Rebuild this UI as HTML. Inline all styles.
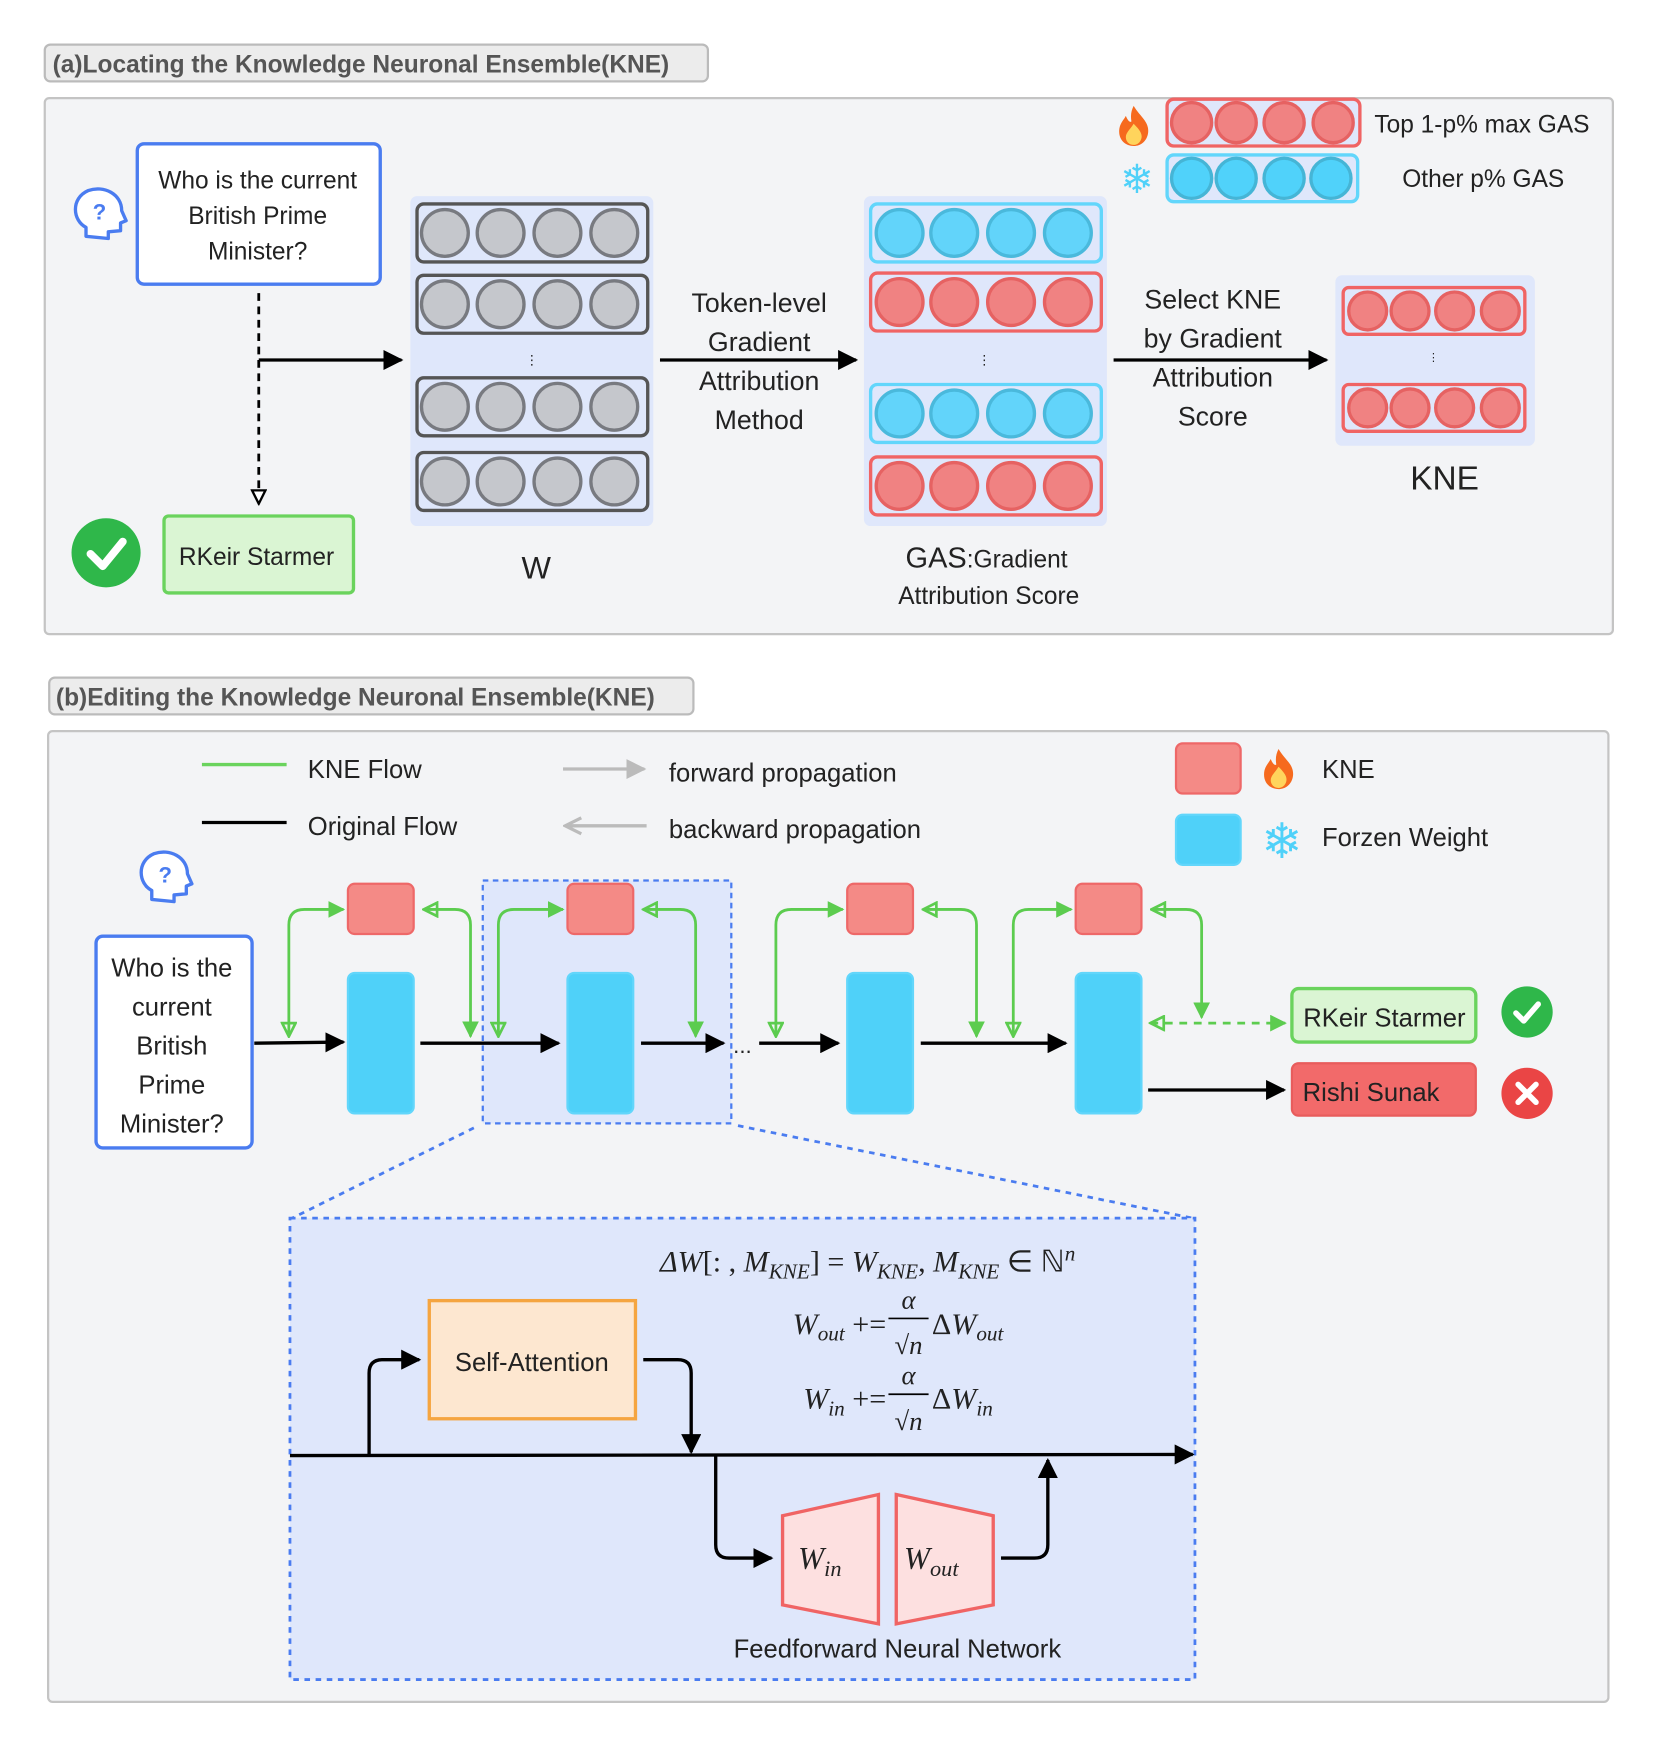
<!DOCTYPE html>
<html><head><meta charset="utf-8"><style>
html,body{margin:0;padding:0;background:#fff;}
svg{display:block;}
text{font-family:"Liberation Sans","DejaVu Sans",sans-serif;fill:#222;}
.m{font-family:"Liberation Serif",serif;font-style:italic;}
</style></head><body>
<svg width="1661" height="1752" viewBox="0 0 1490 1572" xmlns="http://www.w3.org/2000/svg">
<defs>
<marker id="ab" viewBox="0 0 10 10" refX="9" refY="5" markerWidth="6" markerHeight="6" orient="auto-start-reverse"><path d="M0,0 L10,5 L0,10 z" fill="#000"/></marker>
<marker id="gf" viewBox="0 0 10 10" refX="9" refY="5" markerWidth="6" markerHeight="6" orient="auto-start-reverse"><path d="M0,0 L10,5 L0,10 z" fill="#5ccc4f"/></marker>
<marker id="go" viewBox="0 0 10 10" refX="9" refY="5" markerWidth="6" markerHeight="6" orient="auto-start-reverse"><path d="M1,1 L9,5 L1,9 z" fill="none" stroke="#5ccc4f" stroke-width="1.6"/></marker>
<marker id="ko" viewBox="0 0 10 10" refX="9" refY="5" markerWidth="6" markerHeight="6" orient="auto-start-reverse"><path d="M1,1 L9,5 L1,9 z" fill="#fff" stroke="#000" stroke-width="1.4"/></marker>
<marker id="gr" viewBox="0 0 10 10" refX="9" refY="5" markerWidth="6" markerHeight="6" orient="auto-start-reverse"><path d="M0,0 L10,5 L0,10 z" fill="#bbb"/></marker>
<marker id="gro" viewBox="0 0 10 10" refX="9" refY="5" markerWidth="6" markerHeight="6" orient="auto-start-reverse"><path d="M1,1 L9,5 L1,9" fill="none" stroke="#bbb" stroke-width="1.6"/></marker>
<g id="qh"><path d="M-10,20 L-10,12 C-22,6 -24,-14 -8,-21 C6,-26 22,-18 22,-3 L26,6 L21,8 L21,15 L10,16 L10,22 Z" fill="#fff" stroke="#4a7cf0" stroke-width="3" stroke-linejoin="round"/><text x="2" y="5" font-size="20" text-anchor="middle" style="fill:#4a7cf0;font-weight:bold">?</text></g>
<g id="fl"><path d="M0,-18 C6,-8 14,-4 13,6 C12,14 6,18 0,18 C-7,18 -13,13 -13,5 C-13,-2 -9,-5 -7,-9 C-5,-4 -3,-3 -2,-4 C-3,-10 -2,-14 0,-18Z" fill="#f66a1e"/><path d="M0,-2 C5,3 8,7 7,11 C6,15 3,17 0,17 C-4,17 -7,14 -7,10 C-7,6 -3,3 0,-2Z" fill="#ffd45c"/></g>
</defs>

<!-- (a) -->
<rect x="40" y="40" width="595" height="33" rx="5" fill="#ececec" stroke="#bbb" stroke-width="2"/>
<text x="47" y="65" font-size="22" font-weight="bold" style="fill:#555">(a)Locating the Knowledge Neuronal Ensemble(KNE)</text>
<rect x="40" y="88" width="1407" height="481" rx="4" fill="#f3f4f6" stroke="#c4c4c4" stroke-width="2"/>
<use href="#qh" x="87" y="192"/>
<rect x="123" y="129" width="218" height="126" rx="6" fill="#fff" stroke="#4a7cf0" stroke-width="3"/>
<text font-size="22" text-anchor="middle"><tspan x="231" y="169">Who is the current</tspan><tspan x="231" y="201">British Prime</tspan><tspan x="231" y="233">Minister?</tspan></text>
<line x1="232" y1="263" x2="232" y2="452" stroke="#000" stroke-width="2.5" stroke-dasharray="7,5" marker-end="url(#ko)"/>
<line x1="232" y1="323" x2="360" y2="323" stroke="#000" stroke-width="3" marker-end="url(#ab)"/>
<circle cx="95" cy="496" r="31" fill="#2fb74a"/><path d="M81,497 L92,508 L110,486" fill="none" stroke="#fff" stroke-width="7" stroke-linecap="round" stroke-linejoin="round"/>
<rect x="147" y="463" width="170" height="69" rx="4" fill="#daf5d3" stroke="#6ad35d" stroke-width="3"/>
<text x="230" y="507" font-size="22" text-anchor="middle">RKeir Starmer</text>

<rect x="368" y="176" width="218" height="296" rx="6" fill="#dfe7fb"/>
<g stroke="#555" stroke-width="3" fill="#dfe7fb">
<rect x="374" y="183" width="207" height="52" rx="6"/><rect x="374" y="247" width="207" height="52" rx="6"/>
<rect x="374" y="339" width="207" height="52" rx="6"/><rect x="374" y="406" width="207" height="52" rx="6"/>
</g>
<g fill="#c5c7cc" stroke="#787a80" stroke-width="3">
<circle cx="399" cy="209" r="21"/><circle cx="449" cy="209" r="21"/><circle cx="500" cy="209" r="21"/><circle cx="551" cy="209" r="21"/>
<circle cx="399" cy="273" r="21"/><circle cx="449" cy="273" r="21"/><circle cx="500" cy="273" r="21"/><circle cx="551" cy="273" r="21"/>
<circle cx="399" cy="365" r="21"/><circle cx="449" cy="365" r="21"/><circle cx="500" cy="365" r="21"/><circle cx="551" cy="365" r="21"/>
<circle cx="399" cy="432" r="21"/><circle cx="449" cy="432" r="21"/><circle cx="500" cy="432" r="21"/><circle cx="551" cy="432" r="21"/>
</g>
<text x="477" y="327" font-size="12" text-anchor="middle">⋮</text>
<text x="481" y="519" font-size="28" text-anchor="middle">W</text>

<text font-size="24" text-anchor="middle"><tspan x="681" y="280">Token-level</tspan><tspan x="681" y="315">Gradient</tspan><tspan x="681" y="350">Attribution</tspan><tspan x="681" y="385">Method</tspan></text>
<line x1="592" y1="323" x2="768" y2="323" stroke="#000" stroke-width="3" marker-end="url(#ab)"/>

<rect x="775" y="176" width="218" height="296" rx="6" fill="#dfe7fb"/>
<g stroke-width="3" fill="#dfe7fb">
<rect x="781" y="183" width="207" height="52" rx="6" stroke="#62d6fb"/><rect x="781" y="245" width="207" height="52" rx="6" stroke="#f06464"/>
<rect x="781" y="345" width="207" height="52" rx="6" stroke="#62d6fb"/><rect x="781" y="410" width="207" height="52" rx="6" stroke="#f06464"/>
</g>
<g fill="#62d4fa" stroke="#4ab9dc" stroke-width="3">
<circle cx="807" cy="209" r="21"/><circle cx="856" cy="209" r="21"/><circle cx="907" cy="209" r="21"/><circle cx="958" cy="209" r="21"/>
<circle cx="807" cy="371" r="21"/><circle cx="856" cy="371" r="21"/><circle cx="907" cy="371" r="21"/><circle cx="958" cy="371" r="21"/>
</g>
<g fill="#f08282" stroke="#e66262" stroke-width="3">
<circle cx="807" cy="271" r="21"/><circle cx="856" cy="271" r="21"/><circle cx="907" cy="271" r="21"/><circle cx="958" cy="271" r="21"/>
<circle cx="807" cy="436" r="21"/><circle cx="856" cy="436" r="21"/><circle cx="907" cy="436" r="21"/><circle cx="958" cy="436" r="21"/>
</g>
<text x="883" y="327" font-size="12" text-anchor="middle">⋮</text>
<text x="885" y="509" font-size="26" text-anchor="middle">GAS<tspan font-size="22">:Gradient</tspan></text>
<text x="887" y="542" font-size="22" text-anchor="middle">Attribution Score</text>

<text font-size="24" text-anchor="middle"><tspan x="1088" y="277">Select KNE</tspan><tspan x="1088" y="312">by Gradient</tspan><tspan x="1088" y="347">Attribution</tspan><tspan x="1088" y="382">Score</tspan></text>
<line x1="999" y1="323" x2="1190" y2="323" stroke="#000" stroke-width="3" marker-end="url(#ab)"/>

<rect x="1198" y="247" width="179" height="153" rx="6" fill="#dfe7fb"/>
<rect x="1205" y="258" width="163" height="42" rx="5" fill="#dfe7fb" stroke="#f06464" stroke-width="3"/>
<rect x="1205" y="345" width="163" height="42" rx="5" fill="#dfe7fb" stroke="#f06464" stroke-width="3"/>
<g fill="#f08282" stroke="#e66262" stroke-width="3">
<circle cx="1227" cy="279" r="17"/><circle cx="1265" cy="279" r="17"/><circle cx="1305" cy="279" r="17"/><circle cx="1346" cy="279" r="17"/>
<circle cx="1227" cy="366" r="17"/><circle cx="1265" cy="366" r="17"/><circle cx="1305" cy="366" r="17"/><circle cx="1346" cy="366" r="17"/>
</g>
<text x="1286" y="324" font-size="10" text-anchor="middle">⋮</text>
<text x="1296" y="439" font-size="30" text-anchor="middle">KNE</text>

<use href="#fl" x="1017" y="113"/>
<rect x="1047" y="89" width="173" height="42" rx="6" fill="#dfe7fb" stroke="#f06464" stroke-width="3"/>
<g fill="#f08282" stroke="#e66262" stroke-width="3"><circle cx="1069" cy="110" r="18"/><circle cx="1109" cy="110" r="18"/><circle cx="1152" cy="110" r="18"/><circle cx="1196" cy="110" r="18"/></g>
<text x="1233" y="119" font-size="22">Top 1-p% max GAS</text>
<text x="1020" y="173" font-size="36" text-anchor="middle" style="fill:#4fd1f9">❄</text>
<rect x="1047" y="139" width="171" height="42" rx="6" fill="#dfe7fb" stroke="#62d6fb" stroke-width="3"/>
<g fill="#50d2fa" stroke="#45b5d6" stroke-width="3"><circle cx="1069" cy="160" r="18"/><circle cx="1109" cy="160" r="18"/><circle cx="1152" cy="160" r="18"/><circle cx="1194" cy="160" r="18"/></g>
<text x="1258" y="168" font-size="22">Other p% GAS</text>

<!-- (b) -->
<rect x="44" y="608" width="578" height="33" rx="5" fill="#ececec" stroke="#bbb" stroke-width="2"/>
<text x="50" y="633" font-size="22" font-weight="bold" style="fill:#555">(b)Editing the Knowledge Neuronal Ensemble(KNE)</text>
<rect x="43" y="656" width="1400" height="871" rx="4" fill="#f3f4f6" stroke="#c4c4c4" stroke-width="2"/>

<line x1="181" y1="686" x2="257" y2="686" stroke="#6ad35d" stroke-width="3"/>
<text x="276" y="698" font-size="23">KNE Flow</text>
<line x1="181" y1="738" x2="257" y2="738" stroke="#000" stroke-width="3"/>
<text x="276" y="749" font-size="23">Original Flow</text>
<line x1="505" y1="690" x2="578" y2="690" stroke="#bbb" stroke-width="3" marker-end="url(#gr)"/>
<text x="600" y="701" font-size="23">forward propagation</text>
<line x1="507" y1="741" x2="580" y2="741" stroke="#bbb" stroke-width="3" marker-start="url(#gro)"/>
<text x="600" y="752" font-size="23">backward propagation</text>
<rect x="1055" y="667" width="58" height="45" rx="6" fill="#f48a86" stroke="#ee6868" stroke-width="2"/>
<use href="#fl" x="1147" y="690"/>
<text x="1186" y="698" font-size="23">KNE</text>
<rect x="1055" y="731" width="58" height="45" rx="6" fill="#4fd1f9" stroke="#62d6fb" stroke-width="2"/>
<text x="1150" y="770" font-size="44" text-anchor="middle" style="fill:#4fd1f9">❄</text>
<text x="1186" y="759" font-size="23">Forzen Weight</text>

<use href="#qh" x="146" y="787"/>
<rect x="86" y="840" width="140" height="190" rx="6" fill="#fff" stroke="#4a7cf0" stroke-width="3"/>
<text font-size="23" text-anchor="middle"><tspan x="154" y="876">Who is the</tspan><tspan x="154" y="911">current</tspan><tspan x="154" y="946">British</tspan><tspan x="154" y="981">Prime</tspan><tspan x="154" y="1016">Minister?</tspan></text>

<rect x="433" y="790" width="223" height="218" fill="#dfe7fb" stroke="#4a7cf0" stroke-width="2" stroke-dasharray="5,4"/>
<line x1="425" y1="1012" x2="262" y2="1093" stroke="#4a7cf0" stroke-width="2.5" stroke-dasharray="5,5"/>
<line x1="662" y1="1010" x2="1070" y2="1093" stroke="#4a7cf0" stroke-width="2.5" stroke-dasharray="5,5"/>

<g fill="#4fd1f9" stroke="#62d6fb" stroke-width="2">
<rect x="312" y="873" width="59" height="126" rx="6"/><rect x="509" y="873" width="59" height="126" rx="6"/>
<rect x="760" y="873" width="59" height="126" rx="6"/><rect x="965" y="873" width="59" height="126" rx="6"/>
</g>
<g fill="#f48a86" stroke="#ee6868" stroke-width="2">
<rect x="312" y="793" width="59" height="45" rx="6"/><rect x="509" y="793" width="59" height="45" rx="6"/>
<rect x="760" y="793" width="59" height="45" rx="6"/><rect x="965" y="793" width="59" height="45" rx="6"/>
</g>
<g stroke="#000" stroke-width="3" fill="none" marker-end="url(#ab)">
<line x1="228" y1="936" x2="308" y2="935"/><line x1="377" y1="936" x2="501" y2="936"/>
<line x1="575" y1="936" x2="649" y2="936"/><line x1="681" y1="936" x2="752" y2="936"/>
<line x1="826" y1="936" x2="956" y2="936"/><line x1="1030" y1="978" x2="1152" y2="978"/>
</g>
<text x="666" y="945" font-size="20" text-anchor="middle">...</text>
<g stroke="#5ccc4f" stroke-width="2.5" fill="none">
<path d="M259,930 L259,830 Q259,816 273,816 L308,816" marker-end="url(#gf)" marker-start="url(#go)"/>
<path d="M380,816 L408,816 Q422,816 422,830 L422,930" marker-start="url(#go)" marker-end="url(#gf)"/>
<path d="M447,930 L447,830 Q447,816 461,816 L505,816" marker-end="url(#gf)" marker-start="url(#go)"/>
<path d="M577,816 L610,816 Q624,816 624,830 L624,930" marker-start="url(#go)" marker-end="url(#gf)"/>
<path d="M696,930 L696,830 Q696,816 710,816 L756,816" marker-end="url(#gf)" marker-start="url(#go)"/>
<path d="M828,816 L862,816 Q876,816 876,830 L876,930" marker-start="url(#go)" marker-end="url(#gf)"/>
<path d="M909,930 L909,830 Q909,816 923,816 L961,816" marker-end="url(#gf)" marker-start="url(#go)"/>
<path d="M1033,816 L1064,816 Q1078,816 1078,830 L1078,913" marker-start="url(#go)" marker-end="url(#gf)"/>
<path d="M1032,918 L1153,918" stroke-dasharray="7,6" marker-start="url(#go)" marker-end="url(#gf)"/>
</g>
<rect x="1159" y="887" width="165" height="48" rx="6" fill="#daf5d3" stroke="#6ad35d" stroke-width="3"/>
<text x="1242" y="921" font-size="23" text-anchor="middle">RKeir Starmer</text>
<circle cx="1370" cy="908" r="23" fill="#2fb74a"/><path d="M1360,909 L1367,916 L1380,901" fill="none" stroke="#fff" stroke-width="5" stroke-linecap="round" stroke-linejoin="round"/>
<rect x="1159" y="954" width="165" height="47" rx="6" fill="#f26a6a" stroke="#e85c5c" stroke-width="2"/>
<text x="1230" y="988" font-size="23" text-anchor="middle">Rishi Sunak</text>
<circle cx="1370" cy="981" r="23" fill="#ea4545"/><path d="M1362,973 L1378,989 M1378,973 L1362,989" stroke="#fff" stroke-width="5" stroke-linecap="round"/>

<rect x="260" y="1093" width="812" height="414" fill="#dfe7fb" stroke="#4a7cf0" stroke-width="2.5" stroke-dasharray="5,5"/>
<text class="m" x="592" y="1141" font-size="27">ΔW<tspan style="font-style:normal">[: ,</tspan> M<tspan font-size="19" dy="6">KNE</tspan><tspan dy="-6" style="font-style:normal">] = </tspan>W<tspan font-size="19" dy="6">KNE</tspan><tspan dy="-6" style="font-style:normal">, </tspan>M<tspan font-size="19" dy="6">KNE</tspan><tspan dy="-6" style="font-style:normal"> ∈ ℕ</tspan><tspan font-size="19" dy="-10">n</tspan></text>
<text class="m" x="795" y="1197" font-size="27" text-anchor="end">W<tspan font-size="19" dy="6">out</tspan><tspan dy="-6" style="font-style:normal"> +=</tspan></text>
<text class="m" x="815" y="1174" font-size="24" text-anchor="middle">α</text>
<line x1="797" y1="1183" x2="833" y2="1183" stroke="#000" stroke-width="1.5"/>
<text class="m" x="815" y="1215" font-size="24" text-anchor="middle"><tspan style="font-style:normal">√</tspan>n</text>
<text class="m" x="836" y="1197" font-size="27"><tspan style="font-style:normal">Δ</tspan>W<tspan font-size="19" dy="6">out</tspan></text>
<text class="m" x="795" y="1264" font-size="27" text-anchor="end">W<tspan font-size="19" dy="6">in</tspan><tspan dy="-6" style="font-style:normal"> +=</tspan></text>
<text class="m" x="815" y="1242" font-size="24" text-anchor="middle">α</text>
<line x1="797" y1="1251" x2="833" y2="1251" stroke="#000" stroke-width="1.5"/>
<text class="m" x="815" y="1283" font-size="24" text-anchor="middle"><tspan style="font-style:normal">√</tspan>n</text>
<text class="m" x="836" y="1264" font-size="27"><tspan style="font-style:normal">Δ</tspan>W<tspan font-size="19" dy="6">in</tspan></text>

<rect x="385" y="1167" width="185" height="106" fill="#fde7d0" stroke="#f5a540" stroke-width="3"/>
<text x="477" y="1230" font-size="23" text-anchor="middle">Self-Attention</text>
<g stroke="#000" stroke-width="3" fill="none" marker-end="url(#ab)">
<line x1="260" y1="1306" x2="1070" y2="1305"/>
<path d="M331,1306 L331,1232 Q331,1220 343,1220 L376,1220"/>
<path d="M577,1220 L608,1220 Q620,1220 620,1232 L620,1303"/>
<path d="M642,1306 L642,1386 Q642,1398 654,1398 L692,1398"/>
<path d="M898,1398 L928,1398 Q940,1398 940,1386 L940,1310"/>
</g>
<path d="M702,1360 L788,1341 L788,1457 L702,1440 Z" fill="#fde0e0" stroke="#f06464" stroke-width="3"/>
<path d="M804,1341 L891,1360 L891,1440 L804,1457 Z" fill="#fde0e0" stroke="#f06464" stroke-width="3"/>
<text class="m" x="716" y="1408" font-size="28">W<tspan font-size="20" dy="6">in</tspan></text>
<text class="m" x="811" y="1408" font-size="28">W<tspan font-size="20" dy="6">out</tspan></text>
<text x="805" y="1487" font-size="23" text-anchor="middle">Feedforward Neural Network</text>
</svg>
</body></html>
